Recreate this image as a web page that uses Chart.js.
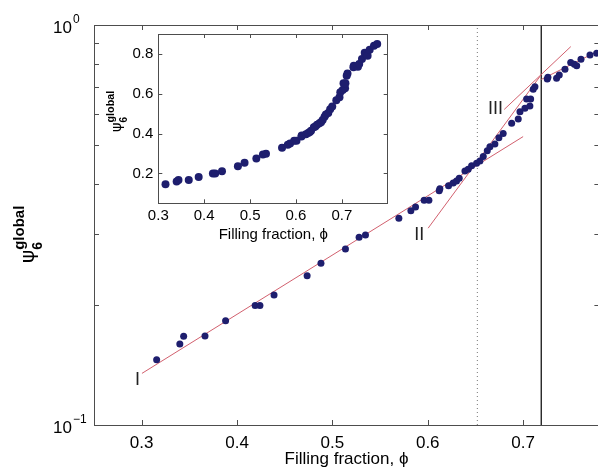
<!DOCTYPE html>
<html>
<head>
<meta charset="utf-8">
<script src="https://cdn.jsdelivr.net/npm/chart.js@4.4.0/dist/chart.umd.min.js"></script>
<style>
  html, body { margin: 0; padding: 0; background: #fff; overflow: hidden; }
  #wrap { position: relative; width: 598px; height: 470px; overflow: hidden; }
  #main { position: absolute; left: 0; top: 0; }
  #inset { position: absolute; left: 100px; top: 20px; }
</style>
</head>
<body>
<div id="wrap">
  <canvas id="main" width="606" height="470"></canvas>
  <canvas id="inset" width="300" height="235"></canvas>
</div>
<script>
// filling fraction and global bond-order parameter
const phi = [0.3157, 0.340, 0.344, 0.3664, 0.388, 0.419, 0.424, 0.4388, 0.4735, 0.488,
  0.5137, 0.528, 0.5347, 0.5697, 0.5823, 0.5872, 0.5962, 0.6012, 0.612, 0.6127,
  0.6218, 0.6267, 0.6302, 0.633, 0.639, 0.6424, 0.646, 0.6512, 0.6547, 0.6582,
  0.6624, 0.6652, 0.6704, 0.6746, 0.6791, 0.688, 0.6949, 0.6967, 0.7019, 0.7071,
  0.7037, 0.7079, 0.7106, 0.7124, 0.7253, 0.7260, 0.7351, 0.7379, 0.7439, 0.7499,
  0.7537, 0.7562, 0.7607, 0.7701, 0.7771];
const psi = [0.1455, 0.1594, 0.1667, 0.1669, 0.1823, 0.199, 0.199, 0.2113, 0.236, 0.2538,
  0.2754, 0.2946, 0.2985, 0.3286, 0.3434, 0.3508, 0.3646, 0.3646, 0.3853, 0.3898,
  0.3964, 0.4027, 0.4074, 0.4139, 0.4315, 0.4357, 0.4449, 0.4513, 0.4571, 0.4688,
  0.4850, 0.4963, 0.5039, 0.5228, 0.5358, 0.5678, 0.5821, 0.6072, 0.6193, 0.6275,
  0.6531, 0.6531, 0.6906, 0.7011, 0.7328, 0.7400, 0.736, 0.7499, 0.775, 0.8053,
  0.7974, 0.7907, 0.8209, 0.8414, 0.850];

// fitted regimes (end points)
const fitIx = [0.3003, 0.700], fitIy = [0.1346, 0.526];
const fitIIx = [0.6004, 0.719], fitIIy = [0.3105, 0.751];
const fitIIIx = [0.6802, 0.750], fitIIIy = [0.615, 0.883];
const fitIVx = [0.719, 0.781], fitIVy = [0.731, 0.866];
const phiDotted = 0.652, phiSolid = 0.719;

const regimeLabels = ['I', 'II', 'III'];
const regimeX = [0.2955, 0.591, 0.6711];
const regimeY = [0.1296, 0.2985, 0.615];

const mainXTicks = [0.3, 0.4, 0.5, 0.6, 0.7, 0.8];
const mainYTicks = [0.1, 0.2, 0.3, 0.4, 0.5, 0.6, 0.7, 0.8, 0.9, 1];
const mainYLabels = [[1, '0'], [0.1, '\u22121']];
const insetXTicks = [0.3, 0.4, 0.5, 0.6, 0.7];
const insetYTicks = [0.2, 0.4, 0.6, 0.8];

const FONT = '"Liberation Sans", Arial, sans-serif';
const DOT = '#1e1e6e';
const RED = '#d2606e';

const pts = phi.map((v, i) => ({ x: v, y: psi[i] }));
const seg = (xs, ys) => xs.map((v, i) => ({ x: v, y: ys[i] }));
const setTicks = arr => scale => { scale.ticks = arr.map(v => ({ value: v })); };

function fitLine(xs, ys) {
  return { data: seg(xs, ys), showLine: true, borderColor: RED, borderWidth: 1,
    pointRadius: 0, order: 2 };
}

function drawTicks(ctx, a, xs, ys, xv, yv, len) {
  ctx.beginPath();
  xv.forEach(v => {
    const p = Math.round(xs.getPixelForValue(v)) + 0.5;
    if (p < a.left || p > a.right) return;
    ctx.moveTo(p, a.bottom); ctx.lineTo(p, a.bottom - len);
    ctx.moveTo(p, a.top); ctx.lineTo(p, a.top + len);
  });
  yv.forEach(v => {
    const p = Math.round(ys.getPixelForValue(v)) + 0.5;
    ctx.moveTo(a.left, p); ctx.lineTo(a.left + len, p);
    ctx.moveTo(a.right, p); ctx.lineTo(a.right - len, p);
  });
  ctx.stroke();
}

function drawPsiTitle(ctx, x0, y0, s) {
  ctx.save();
  ctx.translate(x0, y0);
  ctx.rotate(-Math.PI / 2);
  ctx.fillStyle = '#000';
  ctx.textAlign = 'left';
  ctx.textBaseline = 'alphabetic';
  ctx.font = (20 * s) + 'px "DejaVu Sans", ' + FONT;
  ctx.fillText('\u03c8', 0, 0);
  const w = ctx.measureText('\u03c8').width;
  ctx.font = 'bold ' + (14 * s) + 'px ' + FONT;
  ctx.fillText('6', w, 8 * s);
  ctx.font = 'bold ' + (15 * s) + 'px ' + FONT;
  ctx.fillText('global', w, -10 * s);
  ctx.restore();
}

const mainDecor = {
  id: 'mainDecor',
  beforeDraw(chart) {
    const ctx = chart.ctx;
    ctx.save(); ctx.fillStyle = '#fff';
    ctx.fillRect(0, 0, chart.width, chart.height); ctx.restore();
  },
  afterDraw(chart) {
    const { ctx, chartArea: a, scales: { x, y } } = chart;
    ctx.save();
    ctx.strokeStyle = '#4d4d4d';
    ctx.lineWidth = 1;
    ctx.strokeRect(Math.round(a.left) + 0.5, Math.round(a.top) + 0.5,
      Math.round(a.right - a.left), Math.round(a.bottom - a.top));
    drawTicks(ctx, a, x, y, mainXTicks, mainYTicks, 5);

    ctx.fillStyle = '#000';
    ctx.textBaseline = 'alphabetic';
    ctx.textAlign = 'left';
    mainYLabels.forEach(([v, e]) => {
      const py = y.getPixelForValue(v);
      ctx.font = '17px ' + FONT;
      ctx.fillText('10', 53, py + 8);
      const w = ctx.measureText('10').width;
      ctx.font = '12px ' + FONT;
      ctx.fillText(e, 53 + w + 1, py - 2);
    });

    ctx.font = '17px ' + FONT;
    ctx.textAlign = 'center';
    ctx.fillText('Filling fraction, \u03d5', 346.5, 464);

    ctx.fillStyle = '#222';
    ctx.font = '18px ' + FONT;
    ctx.textBaseline = 'middle';
    regimeLabels.forEach((t, i) => {
      ctx.fillText(t, x.getPixelForValue(regimeX[i]), y.getPixelForValue(regimeY[i]));
    });

    drawPsiTitle(ctx, 34, 263, 1);
    ctx.restore();
  }
};

new Chart(document.getElementById('main'), {
  type: 'scatter',
  data: {
    datasets: [
      { data: pts, backgroundColor: DOT, borderWidth: 0, pointRadius: 3.5, order: 0 },
      fitLine(fitIx, fitIy),
      fitLine(fitIIx, fitIIy),
      fitLine(fitIIIx, fitIIIy),
      fitLine(fitIVx, fitIVy),
      { data: seg([phiDotted, phiDotted], [0.1, 1]), showLine: true, borderColor: '#777',
        borderWidth: 1, borderDash: [1, 3], pointRadius: 0, order: 3 },
      { data: seg([phiSolid, phiSolid], [0.1, 1]), showLine: true, borderColor: '#000',
        borderWidth: 1.2, pointRadius: 0, order: 3 }
    ]
  },
  options: {
    responsive: false,
    animation: false,
    layout: { padding: { left: 0, top: 25, right: 6.6, bottom: 0 } },
    plugins: { legend: { display: false }, tooltip: { enabled: false } },
    scales: {
      x: {
        type: 'linear', min: 0.25, max: 0.78,
        afterBuildTicks: setTicks(mainXTicks.filter(v => v <= 0.78)),
        afterFit: s => { s.height = 45; },
        grid: { display: false, drawTicks: false },
        border: { display: false },
        ticks: { font: { family: FONT, size: 17 }, color: '#000', padding: 8,
          callback: v => v.toFixed(1) }
      },
      y: {
        type: 'logarithmic', min: 0.1, max: 1,
        afterBuildTicks: setTicks(mainYTicks),
        afterFit: s => { s.width = 94; },
        grid: { display: false, drawTicks: false },
        border: { display: false },
        ticks: { display: false }
      }
    }
  },
  plugins: [mainDecor]
});

const insetDecor = {
  id: 'insetDecor',
  beforeDatasetsDraw(chart) {
    const { ctx, chartArea: a } = chart;
    ctx.save(); ctx.fillStyle = '#fff';
    ctx.fillRect(a.left, a.top, a.right - a.left, a.bottom - a.top); ctx.restore();
  },
  afterDraw(chart) {
    const { ctx, chartArea: a, scales: { x, y } } = chart;
    ctx.save();
    ctx.strokeStyle = '#4d4d4d';
    ctx.lineWidth = 1;
    ctx.strokeRect(Math.round(a.left) + 0.5, Math.round(a.top) + 0.5,
      Math.round(a.right - a.left), Math.round(a.bottom - a.top));
    drawTicks(ctx, a, x, y, insetXTicks, insetYTicks, 4);
    ctx.fillStyle = '#000';
    ctx.font = '15px ' + FONT;
    ctx.textAlign = 'center';
    ctx.textBaseline = 'alphabetic';
    ctx.fillText('Filling fraction, \u03d5', 173.3, 219);
    drawPsiTitle(ctx, 21, 112, 0.72);
    ctx.restore();
  }
};

new Chart(document.getElementById('inset'), {
  type: 'scatter',
  data: {
    datasets: [{ data: pts, backgroundColor: DOT, borderWidth: 0, pointRadius: 4 }]
  },
  options: {
    responsive: false,
    animation: false,
    layout: { padding: { left: 0, top: 12.3, right: 12.3, bottom: 0 } },
    plugins: { legend: { display: false }, tooltip: { enabled: false } },
    scales: {
      x: {
        type: 'linear', min: 0.3, max: 0.8,
        afterBuildTicks: setTicks(insetXTicks),
        afterFit: s => { s.height = 51.7; },
        grid: { display: false, drawTicks: false },
        border: { display: false },
        ticks: { font: { family: FONT, size: 15 }, color: '#000', padding: 4,
          callback: v => v.toFixed(1) }
      },
      y: {
        type: 'linear', min: 0.05, max: 0.9,
        afterBuildTicks: setTicks(insetYTicks),
        afterFit: s => { s.width = 58.3; },
        grid: { display: false, drawTicks: false },
        border: { display: false },
        ticks: { font: { family: FONT, size: 15 }, color: '#000', padding: 5,
          callback: v => v.toFixed(1) }
      }
    }
  },
  plugins: [insetDecor]
});
</script>
</body>
</html>
